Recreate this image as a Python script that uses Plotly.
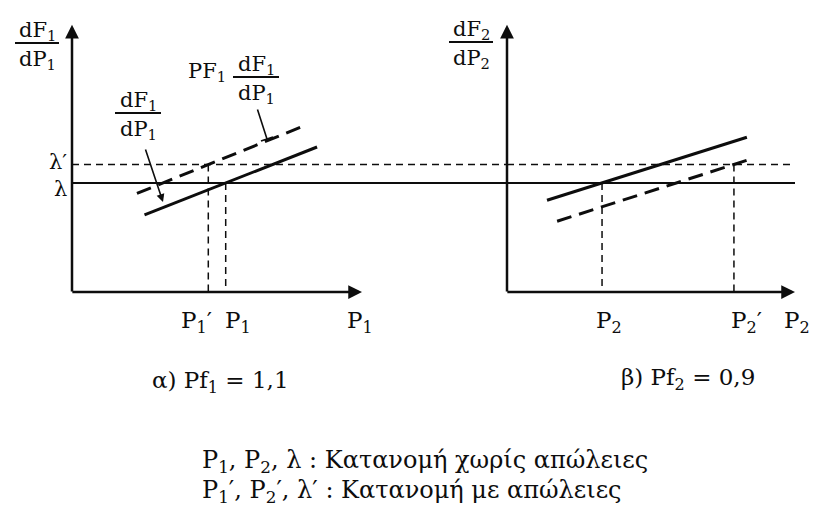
import plotly.graph_objects as go

W, H = 813, 517

# panel (a): Pf1 = 1,1
LAMBDA = 4.04
LAMBDA_P = 4.72
P1 = 5.3
P1_P = 4.7
P1_SOLID_X = [2.5, 8.45]
P1_SOLID_Y = [2.86, 5.37]
P1_DASH_X = [2.24, 7.97]
P1_DASH_Y = [3.65, 6.14]

# panel (b): Pf2 = 0,9
P2 = 3.3
P2_P = 7.88
P2_SOLID_X = [1.39, 8.33]
P2_SOLID_Y = [3.40, 5.73]
P2_DASH_X = [1.74, 8.51]
P2_DASH_Y = [2.62, 4.94]

# axis extents (arrow tips)
AX1_X_END, AX1_Y_END = 10.0, 9.9
AX2_X_END, AX2_Y_END = 10.0, 9.9
LAM_LEFT_END, LAM_RIGHT_END = 15.0, 10.0
LAMP_RIGHT_END = 9.9

INK = "#0d0d0d"
FONT = "DejaVu Serif"


def px(x):
    return x / W


def py(y):
    return 1 - y / H


fig = go.Figure()


def seg(xs, ys, axis, width, dash="solid"):
    fig.add_trace(
        go.Scatter(
            x=xs,
            y=ys,
            mode="lines",
            line={"color": INK, "width": width, "dash": dash},
            xaxis="x" if axis == 1 else "x2",
            yaxis="y" if axis == 1 else "y2",
            hoverinfo="skip",
            showlegend=False,
        )
    )


thin_dash = "7px,5px"
thick_dash = "15px,8px"

# left panel
seg([0, LAM_LEFT_END], [LAMBDA, LAMBDA], 1, 2)
seg([0, LAM_LEFT_END], [LAMBDA_P, LAMBDA_P], 1, 1.5, thin_dash)
seg(P1_SOLID_X, P1_SOLID_Y, 1, 3)
seg(P1_DASH_X, P1_DASH_Y, 1, 3, thick_dash)
seg([P1, P1], [LAMBDA, 0], 1, 1.5, thin_dash)
seg([P1_P, P1_P], [LAMBDA_P, 0], 1, 1.5, thin_dash)

# right panel
seg([0, LAM_RIGHT_END], [LAMBDA, LAMBDA], 2, 2)
seg([0, LAMP_RIGHT_END], [LAMBDA_P, LAMBDA_P], 2, 1.5, thin_dash)
seg(P2_SOLID_X, P2_SOLID_Y, 2, 3)
seg(P2_DASH_X, P2_DASH_Y, 2, 3, thick_dash)
seg([P2, P2], [LAMBDA, 0], 2, 1.5, thin_dash)
seg([P2_P, P2_P], [LAMBDA_P, 0], 2, 1.5, thin_dash)

annotations = []
shapes = []


def axis_arrow(xref, yref, x, y, ax, ay):
    annotations.append(
        dict(
            x=x, y=y, ax=ax, ay=ay,
            xref=xref, yref=yref, axref=xref, ayref=yref,
            showarrow=True, arrowhead=2, arrowsize=1.1, arrowwidth=2.5,
            arrowcolor=INK, text="", standoff=0, startstandoff=0,
        )
    )


axis_arrow("x", "y", AX1_X_END, 0, -0.04, 0)
axis_arrow("x", "y", 0, AX1_Y_END, 0, -0.04)
axis_arrow("x2", "y2", AX2_X_END, 0, -0.04, 0)
axis_arrow("x2", "y2", 0, AX2_Y_END, 0, -0.04)


def label(text, x, y, size=23, xanchor="center", yanchor="middle"):
    annotations.append(
        dict(
            text=text, x=px(x), y=py(y), xref="paper", yref="paper",
            showarrow=False, xanchor=xanchor, yanchor=yanchor,
            font={"family": FONT, "size": size, "color": INK},
        )
    )


def fraction(num, den, xc, bar_y, half, size=21):
    label(num, xc, bar_y - 12, size)
    label(den, xc, bar_y + 17, size)
    shapes.append(
        dict(
            type="line", xref="paper", yref="paper",
            x0=px(xc - half), x1=px(xc + half), y0=py(bar_y), y1=py(bar_y),
            line={"color": INK, "width": 2},
        )
    )


# axis titles
fraction("dF<sub>1</sub>", "dP<sub>1</sub>", 37, 43, 22)
fraction("dF<sub>2</sub>", "dP<sub>2</sub>", 471, 42, 22)

# curve labels
fraction("dF<sub>1</sub>", "dP<sub>1</sub>", 138, 113, 23)
label("PF<sub>1</sub>", 207, 72, 21)
fraction("dF<sub>1</sub>", "dP<sub>1</sub>", 256, 77, 23)

# callout arrows (tail offsets in pixels)
annotations.append(
    dict(
        x=px(163), y=py(202), ax=-18, ay=-54,
        xref="paper", yref="paper", axref="pixel", ayref="pixel",
        showarrow=True, arrowhead=2, arrowsize=1, arrowwidth=1.6,
        arrowcolor=INK, text="", standoff=0,
    )
)
annotations.append(
    dict(
        x=px(267), y=py(139), ax=-10, ay=-31,
        xref="paper", yref="paper", axref="pixel", ayref="pixel",
        showarrow=True, arrowhead=0, arrowwidth=1.6,
        arrowcolor=INK, text="", standoff=0,
    )
)
shapes.append(
    dict(
        type="line", xref="paper", yref="paper",
        x0=px(261), x1=px(273), y0=py(141), y1=py(137),
        line={"color": INK, "width": 1.8},
    )
)

# lambda labels
label("λ′", 58, 162, 21)
label("λ", 60, 189, 21)

# x axis labels
label("P<sub>1</sub>′", 196, 322)
label("P<sub>1</sub>", 238, 322)
label("P<sub>1</sub>", 360, 322)
label("P<sub>2</sub>", 609, 322)
label("P<sub>2</sub>′", 746, 322)
label("P<sub>2</sub>", 812, 322, xanchor="right")

# panel captions
label("α) Pf<sub>1</sub> = 1,1", 220, 382)
label("β) Pf<sub>2</sub> = 0,9", 688, 379)

# legend notes
label("P<sub>1</sub>, P<sub>2</sub>, λ : Κατανομή χωρίς απώλειες", 200, 461, 24, xanchor="left")
label("P<sub>1</sub>′, P<sub>2</sub>′, λ′ : Κατανομή με απώλειες", 200, 491, 24, xanchor="left")

hidden = dict(visible=False, showgrid=False, zeroline=False, fixedrange=True)

fig.update_layout(
    width=W,
    height=H,
    margin=dict(l=0, r=0, t=0, b=0),
    paper_bgcolor="white",
    plot_bgcolor="white",
    showlegend=False,
    xaxis=dict(hidden, domain=[0, 507 / W], range=[-72 / 29, 15]),
    yaxis=dict(hidden, domain=[0, 1], range=[(292 - H) / 27, 292 / 27]),
    xaxis2=dict(hidden, domain=[507 / W, 1], range=[0, (W - 507) / 28.8], anchor="y2"),
    yaxis2=dict(hidden, domain=[0, 1], range=[(292 - H) / 27, 292 / 27], anchor="x2"),
    annotations=annotations,
    shapes=shapes,
)

# drop the default 8px body margin so the figure sits flush in the window
fig.write_html(
    "out.html",
    config={"displayModeBar": False},
    post_script="document.body.style.margin='0';",
)
